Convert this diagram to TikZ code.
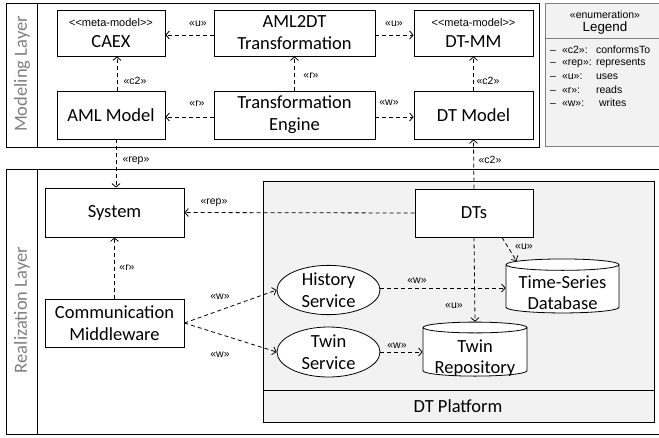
\documentclass[tikz,border=0pt]{standalone}
\usepackage{fontspec}
\setmainfont{Carlito}
\newfontfamily\arialfont{Liberation Sans}
\usetikzlibrary{arrows.meta,shapes.geometric}
\definecolor{platformgray}{HTML}{F2F2F2}
\definecolor{layergray}{HTML}{7F7F7F}
\newcommand{\metatag}{{\arialfont\fontsize{11}{12}\selectfont <{}<meta-model>{}>}}
\newcommand{\legitem}[2]{–\hspace{6pt}\makebox[34pt][l]{#1}#2}
\tikzset{
  elem/.style={draw, line width=0.8pt, align=center, inner sep=0pt, font=\fontsize{18.5}{22}\selectfont},
  svc/.style={elem, ellipse},
  store/.style={elem, cylinder, shape border rotate=90, aspect=0.12},
  storetext/.style={align=center, inner sep=0pt, font=\fontsize{18.5}{21}\selectfont},
  dep/.style={dash pattern=on 4pt off 3pt, line width=0.8pt, -{Straight Barb[length=3.5pt,width=8pt]}},
  stereo/.style={font=\arialfont\fontsize{10.5}{12}\selectfont, inner sep=0pt},
  legtext/.style={font=\arialfont\fontsize{10.5}{12}\selectfont, inner sep=0pt, anchor=west},
  layerlabel/.style={rotate=90, text=layergray, inner sep=0pt, font=\fontsize{18.5}{22}\selectfont},
}
\begin{document}
\begin{tikzpicture}[x=1pt,y=-1pt]
	\useasboundingbox (0,0) rectangle (659,437);
	\clip (0,0) rectangle (659,437);
	
	% layers
	\draw[line width=1pt] (6,3) rectangle (539,147);
	\draw[line width=1pt] (37,3) -- (37,147);
	\node[layerlabel] (modlabel) at (22,74) {Modeling Layer};
	\draw[line width=1pt] (6,169) rectangle (670,434);
	\draw[line width=1pt] (37,169) -- (37,434);
	\node[layerlabel] (reallabel) at (22,310) {Realization Layer};
	
	% legend
	\draw[draw=gray, fill=platformgray, line width=0.8pt] (545,3) rectangle (665,146);
	\draw[draw=gray, line width=0.8pt] (545,38) -- (665,38);
	\node[stereo] (legstereo) at (605,15) {«enumeration»};
	\node[font=\arialfont\fontsize{13.4}{15}\selectfont, inner sep=0pt] (legtitle) at (605,28) {Legend};
	\node[legtext] (leg1) at (550,50) {\legitem{«c2»:}{conformsTo}};
	\node[legtext] (leg2) at (550,63) {\legitem{«rep»:}{represents}};
	\node[legtext] (leg3) at (550,77) {\legitem{«u»:}{uses}};
	\node[legtext] (leg4) at (550,90) {\legitem{«r»:}{reads}};
	\node[legtext] (leg5) at (550,103) {\legitem{«w»:}{\hspace{3pt}writes}};
	
	% platform
	\draw[fill=platformgray, line width=0.8pt] (263,181) rectangle (654,422);
	\draw[line width=0.8pt] (263,390) -- (654,390);
	\node[font=\fontsize{18.5}{22}\selectfont] (platform) at (458,406) {DT Platform};
	
	% modeling layer elements
	\node[elem, minimum width=108, minimum height=46] (caex) at (111,33) {\metatag\\[-1pt]CAEX};
	\node[elem, minimum width=161, minimum height=46] (aml2dt) at (294.5,33) {AML2DT\\Transformation};
	\node[elem, minimum width=119, minimum height=46] (dtmm) at (473.5,33) {\metatag\\[-1pt]DT-MM};
	\node[elem, minimum width=108, minimum height=48] (amlmodel) at (111,115) {AML Model};
	\node[elem, minimum width=161, minimum height=48] (engine) at (294.5,115) {Transformation\\Engine};
	\node[elem, minimum width=119, minimum height=48] (dtmodel) at (473.5,115) {DT Model};
	
	% realization layer elements
	\node[elem, minimum width=139, minimum height=49] (system) at (114.5,212.5) {System};
	\node[elem, fill=white, minimum width=118, minimum height=48] (dts) at (474,213) {DTs};
	\node[elem, minimum width=139, minimum height=48] (comm) at (114.5,323) {Communication\\Middleware};
	\node[svc, fill=white, minimum width=103, minimum height=46] (history) at (328.5,290) {History\\Service};
	\node[svc, fill=white, minimum width=103, minimum height=50] (twin) at (328.5,352) {Twin\\Service};
	\node[store, fill=white, text width=95pt, minimum width=113, minimum height=54,
		label={[storetext, yshift=-4pt]center:Time-Series\\Database}] (tsdb) at (562.5,289) {};
	\node[store, fill=white, text width=90pt, minimum width=104, minimum height=54,
		label={[storetext, yshift=-6.5pt]center:Twin\\Repository}] (trepo) at (475,352) {};
	
	% connectors
	\draw[dep] ([yshift=-2pt]aml2dt.west) -- ([yshift=-2pt]caex.east);
	\draw[dep] ([yshift=-2pt]aml2dt.east) -- ([yshift=-2pt]dtmm.west);
	\draw[dep] ([xshift=6pt]amlmodel.north) -- ([xshift=6pt]caex.south);
	\draw[dep] (engine.north) -- (aml2dt.south);
	\draw[dep] ([yshift=-2pt]engine.west) -- ([yshift=-2pt]amlmodel.east);
	\draw[dep] ([yshift=-2pt]engine.east) -- ([yshift=-2pt]dtmodel.west);
	\draw[dep] (dtmodel.north) -- (dtmm.south);
	\draw[dep] ([xshift=5pt]amlmodel.south) -- ([xshift=1.5pt]system.north);
	\draw[dep] (dts.north) -- (dtmodel.south);
	\draw[dep] (dts.west) -- (system.east);
	\draw[dep] (comm.north) -- (system.south);
	\draw[dep] (comm.east) -- (history.west);
	\draw[dep] (comm.east) -- (twin.west);
	\draw[dep] ([xshift=28pt]dts.south) -- ([xshift=-46pt,yshift=-2.4pt]tsdb.north);
	\draw[dep] (dts.south) -- (trepo.north);
	\draw[dep] ([yshift=2pt]history.east) -- ([yshift=2pt]history.east -| tsdb.west);
	\draw[dep] (twin.east) -- (twin.east -| trepo.west);
	
	% connector labels
	\node[stereo] (uleft) at (198,24) {«u»};
	\node[stereo] (uright) at (394,24) {«u»};
	\node[stereo] (cleft) at (135,81) {«c2»};
	\node[stereo] (rtop) at (311,76) {«r»};
	\node[stereo] (rleft) at (197,104) {«r»};
	\node[stereo] (wright) at (389,103) {«w»};
	\node[stereo] (cright) at (488,81) {«c2»};
	\node[stereo] (repsys) at (136,161) {«rep»};
	\node[stereo] (cdts) at (490,160) {«c2»};
	\node[stereo] (repdts) at (214,203) {«rep»};
	\node[stereo] (rcomm) at (127,268) {«r»};
	\node[stereo] (whist) at (220,297) {«w»};
	\node[stereo] (wtwin) at (220,355) {«w»};
	\node[stereo] (utsdb) at (524,247) {«u»};
	\node[stereo] (wtsdb) at (417,281) {«w»};
	\node[stereo] (utrepo) at (454,306) {«u»};
	\node[stereo] (wtrepo) at (397,346) {«w»};
\end{tikzpicture}
\end{document}
